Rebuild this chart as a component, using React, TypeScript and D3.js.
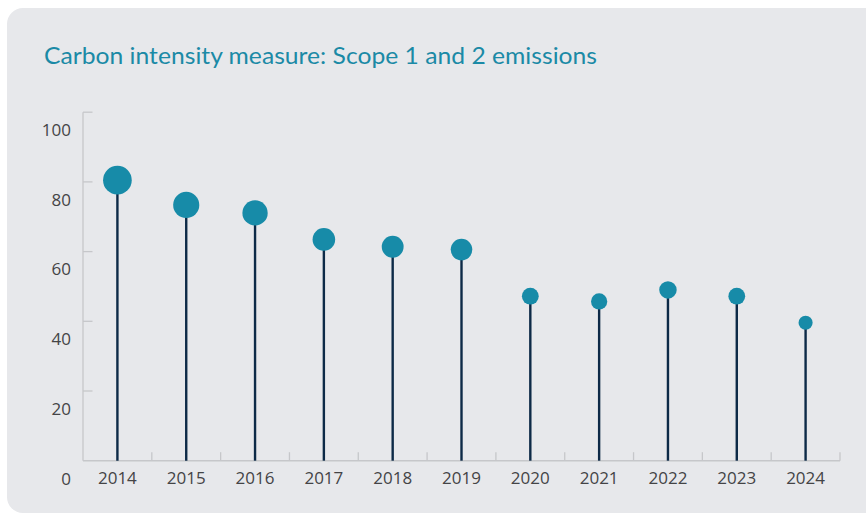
import React from "react";
import * as d3 from "d3";

const years = ["2014", "2015", "2016", "2017", "2018", "2019", "2020", "2021", "2022", "2023", "2024"];
const values = [80.5, 73.4, 71.1, 63.5, 61.4, 60.6, 47.2, 45.7, 49.0, 47.2, 39.6];
const yTicks = [0, 20, 40, 60, 80, 100];
const title = "Carbon intensity measure: Scope 1 and 2 emissions";

const W = 866;
const H = 514;

export default function App() {
  const x = d3.scaleBand<string>().domain(years).range([83, 840]).padding(0);
  const y = d3.scaleLinear().domain([0, 100]).range([460.7, 112.2]);
  const r = d3.scaleLinear().domain([0, 100]).range([0, 17.8]);
  const bw = x.bandwidth();
  const axisColor = "#c6c7ca";
  const labelFont = "'Open Sans', sans-serif";

  return (
    <svg width={W} height={H} style={{ position: "absolute", left: 0, top: 0, background: "#ffffff" }}>
      <rect x={7} y={8} width={W + 20} height={505} rx={16} ry={16} fill="#e7e8eb" />
      <text x={44} y={63.5} fill="#1b8aa6" fontFamily="Lato, sans-serif" fontSize={23} textLength={553} lengthAdjust="spacingAndGlyphs">
        {title}
      </text>

      {/* y axis */}
      <line x1={83} x2={83} y1={y(100)} y2={y(0)} stroke={axisColor} strokeWidth={1.3} />
      {yTicks.map((t) => (
        <g key={t}>
          {t > 0 && <line x1={83} x2={92.5} y1={y(t)} y2={y(t)} stroke={axisColor} strokeWidth={1.3} />}
          <text x={71} y={y(t) + 23.8} textAnchor="end" fontFamily={labelFont} fontSize={17} fill="#444446">
            {t}
          </text>
        </g>
      ))}

      {/* x axis */}
      <line x1={83} x2={840} y1={y(0)} y2={y(0)} stroke={axisColor} strokeWidth={1.5} />
      {years.map((yr) => (
        <line key={"t" + yr} x1={(x(yr) as number) + bw} x2={(x(yr) as number) + bw} y1={y(0)} y2={y(0) - 8.5} stroke={axisColor} strokeWidth={1.3} />
      ))}
      {years.map((yr) => (
        <text key={"l" + yr} x={(x(yr) as number) + bw / 2} y={484.3} textAnchor="middle" fontFamily={labelFont} fontSize={17} fill="#444446">
          {yr}
        </text>
      ))}

      {/* lollipops */}
      {years.map((yr, i) => {
        const cx = (x(yr) as number) + bw / 2;
        return (
          <g key={"p" + yr}>
            <line x1={cx} x2={cx} y1={y(0)} y2={y(values[i])} stroke="#0d2a47" strokeWidth={2.4} />
            <circle cx={cx} cy={y(values[i])} r={r(values[i])} fill="#178ba8" />
          </g>
        );
      })}
    </svg>
  );
}
